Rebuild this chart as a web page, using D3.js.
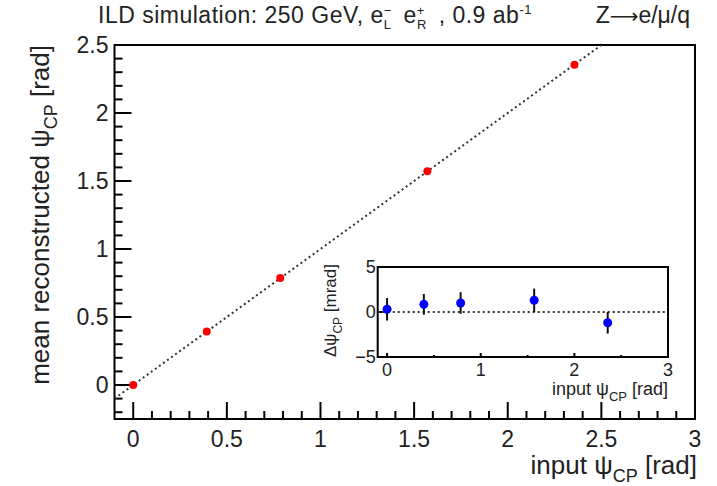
<!DOCTYPE html>
<html>
<head>
<meta charset="utf-8">
<script src="https://cdn.jsdelivr.net/npm/d3@7"></script>
<style>
  body { margin: 0; background: #fff; }
  svg { font-family: "Liberation Sans", Arial, sans-serif; }
</style>
</head>
<body>
<svg id="chart" width="717" height="486"></svg>
<script>
// input psi_CP values [rad]
const inputPsi = [0, 0.3927, 0.7854, 1.5708, 2.3562];
// mean reconstructed psi_CP [rad]
const meanReco = [0.0003, 0.3935, 0.7864, 1.5721, 2.355];
// residuals in the inset [mrad]
const deltaPsi = [0.3, 0.85, 1.0, 1.3, -1.2];
const deltaErr = [1.25, 1.15, 1.2, 1.3, 1.2];

const mainXTicks = [0, 0.5, 1, 1.5, 2, 2.5, 3];
const mainYTicks = [0, 0.5, 1, 1.5, 2, 2.5];
const insetXTicks = [0, 1, 2, 3];
const insetYTicks = [-5, 0, 5];

const svg = d3.select('#chart');

// main frame
const main = {left: 114.5, right: 695, top: 45, bottom: 419};
const x = d3.scaleLinear().domain([-0.1, 3]).range([main.left, main.right]);
const y = d3.scaleLinear().domain([-0.25, 2.5]).range([main.bottom, main.top]);

svg.append('rect')
  .attr('x', main.left).attr('y', main.top)
  .attr('width', main.right - main.left).attr('height', main.bottom - main.top)
  .attr('fill', 'none').attr('stroke', 'black').attr('stroke-width', 2);

const isMajor = d => Math.abs(d * 2 - Math.round(d * 2)) < 1e-6;

// y ticks (inward)
const yMinor = d3.range(-0.2, 2.5001, 0.1).map(v => +v.toFixed(2));
svg.append('g').selectAll('line')
  .data(yMinor).enter().append('line')
  .attr('x1', main.left)
  .attr('x2', d => main.left + (isMajor(d) ? 17 : 8))
  .attr('y1', d => y(d)).attr('y2', d => y(d))
  .attr('stroke', 'black').attr('stroke-width', 2);

svg.append('g').selectAll('text')
  .data(mainYTicks).enter().append('text')
  .text(d => d)
  .attr('x', main.left - 6)
  .attr('y', d => y(d) + 8)
  .attr('text-anchor', 'end')
  .attr('font-size', '23px')
  .attr('fill', '#222');

// x ticks (inward)
const xMinor = d3.range(0, 3.0001, 0.1).map(v => +v.toFixed(2));
svg.append('g').selectAll('line')
  .data(xMinor).enter().append('line')
  .attr('x1', d => x(d)).attr('x2', d => x(d))
  .attr('y1', main.bottom)
  .attr('y2', d => main.bottom - (isMajor(d) ? 17 : 8))
  .attr('stroke', 'black').attr('stroke-width', 2);

svg.append('g').selectAll('text')
  .data(mainXTicks).enter().append('text')
  .text(d => d)
  .attr('x', d => x(d))
  .attr('y', main.bottom + 28)
  .attr('text-anchor', 'middle')
  .attr('font-size', '23px')
  .attr('fill', '#222');

// diagonal dotted line y = x
svg.append('clipPath').attr('id', 'mainclip')
  .append('rect')
  .attr('x', main.left).attr('y', main.top)
  .attr('width', main.right - main.left).attr('height', main.bottom - main.top);

svg.append('line')
  .attr('clip-path', 'url(#mainclip)')
  .attr('x1', x(-0.1)).attr('y1', y(-0.1))
  .attr('x2', x(2.6)).attr('y2', y(2.6))
  .attr('stroke', '#333').attr('stroke-width', 2)
  .attr('stroke-dasharray', '2,3');

svg.append('g').selectAll('circle')
  .data(inputPsi).enter().append('circle')
  .attr('cx', d => x(d))
  .attr('cy', (d, i) => y(meanReco[i]))
  .attr('r', 4)
  .attr('fill', '#ff0000');

// axis titles
const xTitle = svg.append('text')
  .attr('x', 697).attr('y', 474)
  .attr('text-anchor', 'end')
  .attr('font-size', '26px')
  .attr('fill', '#222');
xTitle.append('tspan').text('input ψ');
xTitle.append('tspan').attr('font-size', '18px').attr('dy', 8).text('CP');
xTitle.append('tspan').attr('dy', -8).text(' [rad]');

const yTitle = svg.append('text')
  .attr('transform', 'translate(49, 45) rotate(-90)')
  .attr('text-anchor', 'end')
  .attr('font-size', '26px')
  .attr('fill', '#222');
yTitle.append('tspan').text('mean reconstructed ψ');
yTitle.append('tspan').attr('font-size', '18px').attr('dy', 8).text('CP');
yTitle.append('tspan').attr('dy', -8).text(' [rad]');

// header
const head = svg.append('text')
  .attr('x', 98).attr('y', 23)
  .attr('font-size', '23px')
  .attr('letter-spacing', '0.5px')
  .attr('fill', '#222');
head.append('tspan').text('ILD simulation: 250 GeV, e');
head.append('tspan').attr('font-size', '13px').attr('dy', -8).text('−');
head.append('tspan').attr('font-size', '13px').attr('dx', -8).attr('dy', 14).text('L');
head.append('tspan').attr('dx', 5).attr('dy', -6).text(' e');
head.append('tspan').attr('font-size', '13px').attr('dy', -8).text('+');
head.append('tspan').attr('font-size', '13px').attr('dx', -8).attr('dy', 14).text('R');
head.append('tspan').attr('dx', 5).attr('dy', -6).text(' , 0.9 ab');
head.append('tspan').attr('font-size', '13px').attr('dy', -9).text('-1');

const zText = svg.append('text')
  .attr('x', 690).attr('y', 23)
  .attr('text-anchor', 'end')
  .attr('font-size', '23px')
  .attr('fill', '#222');
zText.append('tspan').text('Z');
zText.append('tspan').attr('font-family', 'DejaVu Sans').attr('font-size', '20px').text('⟶');
zText.append('tspan').text('e/μ/q');

// inset
const ins = {left: 377.7, right: 668, top: 267, bottom: 357};
const xi = d3.scaleLinear().domain([-0.1, 3]).range([ins.left, ins.right]);
const yi = d3.scaleLinear().domain([-5, 5]).range([ins.bottom, ins.top]);

svg.append('rect')
  .attr('x', ins.left).attr('y', ins.top)
  .attr('width', ins.right - ins.left).attr('height', ins.bottom - ins.top)
  .attr('fill', 'white').attr('stroke', 'black').attr('stroke-width', 2);

const xiMinor = d3.range(0, 3.0001, 0.5).map(v => +v.toFixed(2));
svg.append('g').selectAll('line')
  .data(xiMinor).enter().append('line')
  .attr('x1', d => xi(d)).attr('x2', d => xi(d))
  .attr('y1', ins.bottom)
  .attr('y2', d => ins.bottom - (Number.isInteger(d) ? 4 : 2))
  .attr('stroke', 'black').attr('stroke-width', 2);

svg.append('g').selectAll('line')
  .data(insetYTicks).enter().append('line')
  .attr('x1', ins.left).attr('x2', ins.left + 5)
  .attr('y1', d => yi(d)).attr('y2', d => yi(d))
  .attr('stroke', 'black').attr('stroke-width', 2);

svg.append('g').selectAll('text')
  .data(insetXTicks).enter().append('text')
  .text(d => d)
  .attr('x', d => xi(d))
  .attr('y', ins.bottom + 19)
  .attr('text-anchor', 'middle')
  .attr('font-size', '18px')
  .attr('fill', '#222');

svg.append('g').selectAll('text')
  .data(insetYTicks).enter().append('text')
  .text(d => d < 0 ? '−' + Math.abs(d) : d)
  .attr('x', ins.left - 2)
  .attr('y', d => yi(d) + 6)
  .attr('text-anchor', 'end')
  .attr('font-size', '18px')
  .attr('fill', '#222');

svg.append('line')
  .attr('x1', xi(-0.1)).attr('x2', xi(3))
  .attr('y1', yi(0)).attr('y2', yi(0))
  .attr('stroke', '#333').attr('stroke-width', 2)
  .attr('stroke-dasharray', '2,3');

svg.append('g').selectAll('line')
  .data(inputPsi).enter().append('line')
  .attr('x1', d => xi(d)).attr('x2', d => xi(d))
  .attr('y1', (d, i) => yi(deltaPsi[i] - deltaErr[i]))
  .attr('y2', (d, i) => yi(deltaPsi[i] + deltaErr[i]))
  .attr('stroke', '#111').attr('stroke-width', 2);

svg.append('g').selectAll('circle')
  .data(inputPsi).enter().append('circle')
  .attr('cx', d => xi(d))
  .attr('cy', (d, i) => yi(deltaPsi[i]))
  .attr('r', 4.5)
  .attr('fill', '#0000ff');

const xiTitle = svg.append('text')
  .attr('x', 668).attr('y', 395)
  .attr('text-anchor', 'end')
  .attr('font-size', '18px')
  .attr('fill', '#222');
xiTitle.append('tspan').text('input  ψ');
xiTitle.append('tspan').attr('font-size', '13px').attr('dy', 6).text('CP');
xiTitle.append('tspan').attr('dy', -6).text(' [rad]');

const yiTitle = svg.append('text')
  .attr('transform', 'translate(336, 264) rotate(-90)')
  .attr('text-anchor', 'end')
  .attr('font-size', '17px')
  .attr('fill', '#222');
yiTitle.append('tspan').text('Δψ');
yiTitle.append('tspan').attr('font-size', '12px').attr('dy', 6).text('CP');
yiTitle.append('tspan').attr('dy', -6).text(' [mrad]');
</script>
</body>
</html>
